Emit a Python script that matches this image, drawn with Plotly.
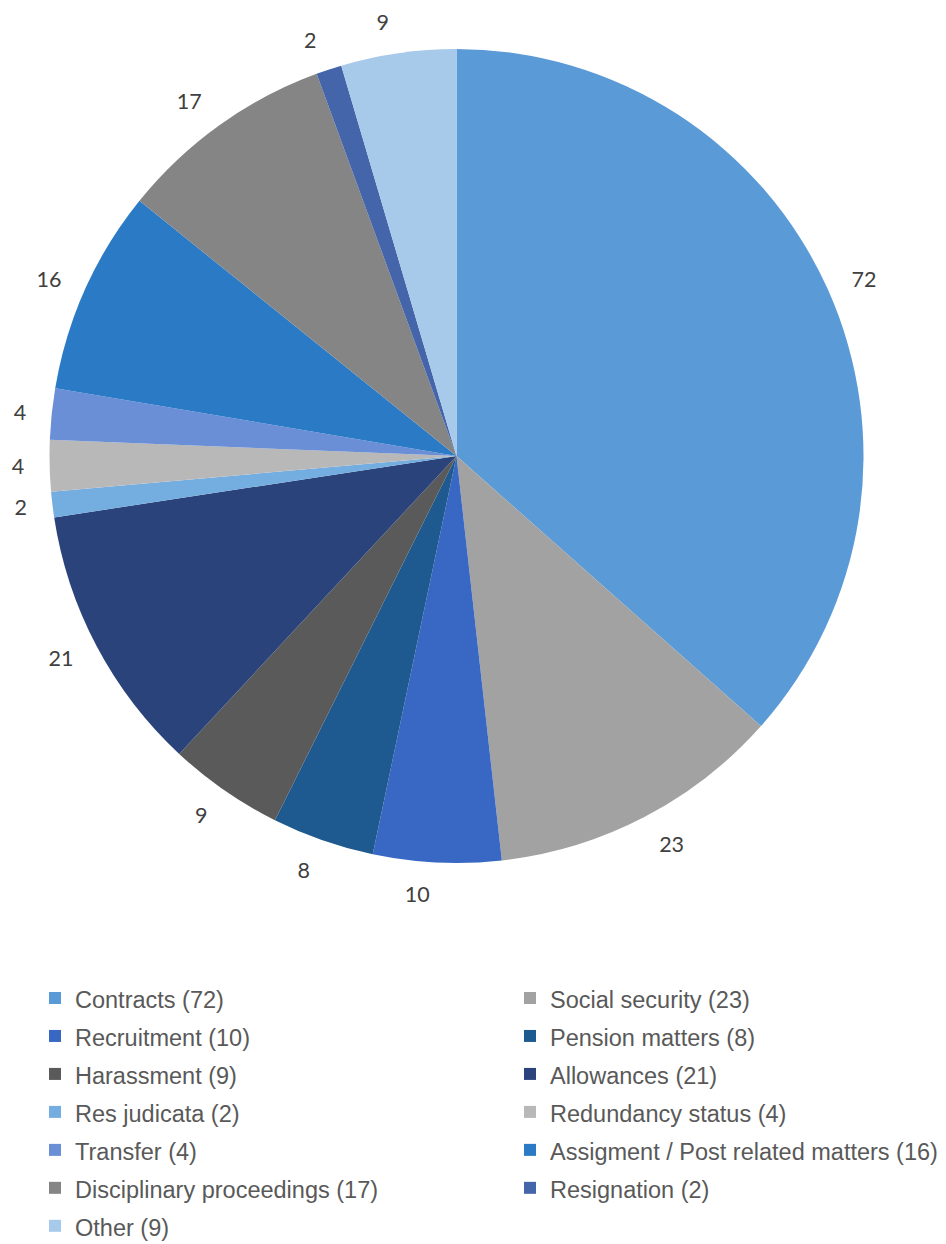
import plotly.graph_objects as go

categories = ["Contracts", "Social security", "Recruitment", "Pension matters", "Harassment",
              "Allowances", "Res judicata", "Redundancy status", "Transfer",
              "Assigment / Post related matters", "Disciplinary proceedings", "Resignation", "Other"]
values = [72, 23, 10, 8, 9, 21, 2, 4, 4, 16, 17, 2, 9]
colors = ["#5a9ad6", "#a2a2a2", "#3868c4", "#1e5a8f", "#5a5a5a", "#2a437a", "#74ade0",
          "#b8b8b8", "#6a8fd6", "#2a7ac5", "#858585", "#4565aa", "#a7c9ea"]

# value labels that sit close together are split over two label layers
second_layer = ["Recruitment", "Other"]

legend_labels = ['<span style="font-size:23.5px">%s (%d)</span>' % (c, v) for c, v in zip(categories, values)]

W, H = 946, 1244
cx, cy, r = 448.5, 448, 407      # visible pie
r_lab = 426                      # radius of the transparent pies carrying the value labels


def dom(rad):
    return dict(x=[(cx - rad) / W, (cx + rad) / W], y=[(H - cy - rad) / H, (H - cy + rad) / H])


label_font = dict(family="Lato, Carlito, sans-serif", size=21.5, color="#404040")

fig = go.Figure()
for layer in (0, 1):
    pos = [("outside" if ((c in second_layer) == bool(layer)) else "none") for c in categories]
    fig.add_trace(go.Pie(
        labels=["lbl%d %s" % (layer, c) for c in categories],
        values=values,
        marker=dict(colors=["rgba(0,0,0,0)"] * len(values), line=dict(width=0)),
        sort=False, direction="clockwise", rotation=0,
        textinfo="value", textposition=pos,
        outsidetextfont=label_font,
        hoverinfo="skip", showlegend=False,
        domain=dom(r_lab),
    ))

fig.add_trace(go.Pie(
    labels=legend_labels,
    values=values,
    marker=dict(colors=colors, line=dict(width=0)),
    sort=False, direction="clockwise", rotation=0,
    textinfo="none",
    hoverinfo="label+value",
    domain=dom(r),
))

fig.update_layout(
    width=W, height=H,
    margin=dict(l=0, r=0, t=0, b=0, autoexpand=False),
    paper_bgcolor="white",
    showlegend=True,
    legend=dict(
        orientation="h",
        x=27 / W, xanchor="left",
        y=(H - 966) / H, yanchor="top",
        entrywidth=430, entrywidthmode="pixels",
        font=dict(family="Liberation Sans, Arial, sans-serif", size=26.9, color="#595959"),
        traceorder="normal",
        itemclick=False,
    ),
)

fig.write_html("out.html")
